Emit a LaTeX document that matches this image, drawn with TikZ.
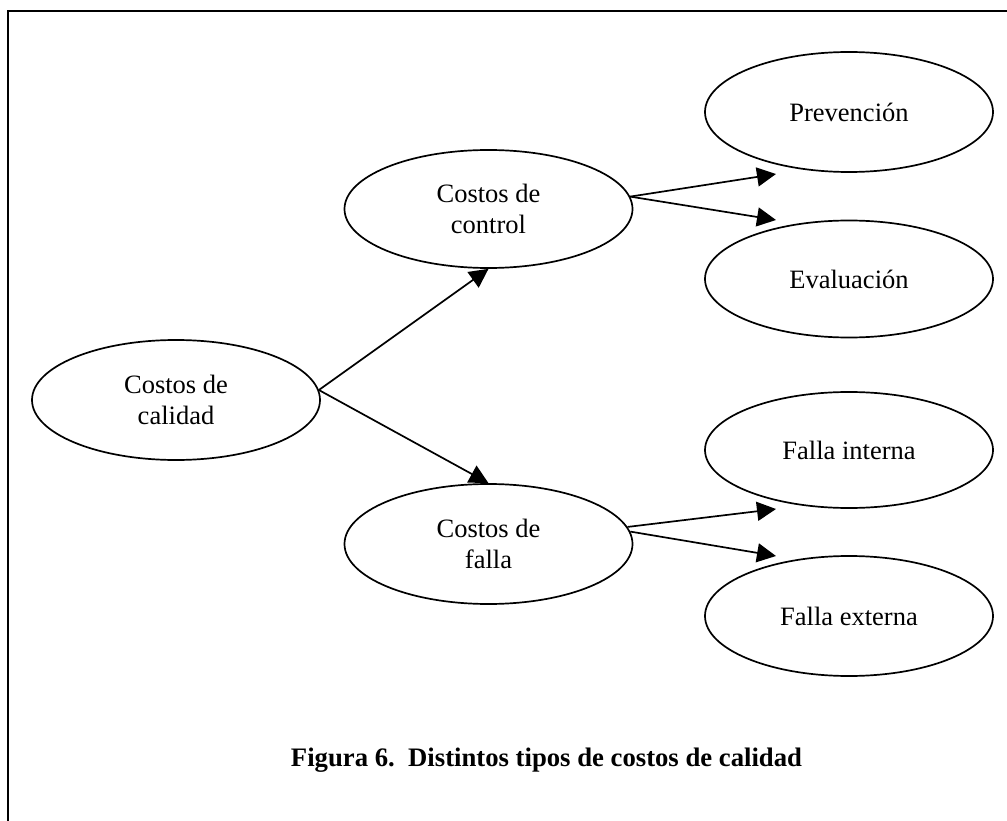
\documentclass[tikz,border=0pt]{standalone}
\usepackage{fontspec}
\setmainfont{Liberation Serif}
\usetikzlibrary{shapes.geometric,arrows.meta}
\begin{document}
\begin{tikzpicture}[x=1pt,y=-1pt,
  oval/.style={draw,ellipse,line width=1.7pt,inner sep=0pt,minimum width=288pt,minimum height=120pt,align=center,font=\fontsize{26.5}{31}\selectfont,fill=white},
  conn/.style={line width=1.7pt,-{Triangle[length=19pt,width=19pt]}},
  framel/.style={line width=1.8pt},
  caption/.style={font=\bfseries\fontsize{26.7}{31}\selectfont,anchor=base,inner sep=0pt}]
\clip (0,0) rectangle (1007,821);
\useasboundingbox (0,0) rectangle (1007,821);
\fill[white] (0,0) rectangle (1007,821);
\draw[framel] (8,830) -- (8,11) -- (1015,11);

\node[oval] (cal) at (176,400) {Costos de\\calidad};
\node[oval,minimum height=118pt] (ctrl) at (488.5,209) {Costos de\\control};
\node[oval] (fal) at (488.5,544) {Costos de\\falla};
\node[oval] (prev) at (849,112) {Prevención};
\node[oval,minimum height=117pt] (eval) at (849,279) {Evaluación};
\node[oval,minimum height=116pt] (fint) at (849,450) {Falla interna};
\node[oval] (fext) at (849,616) {Falla externa};

\coordinate (tp) at (776,174);
\coordinate (te) at (776,220);
\coordinate (tfi) at (776,509);
\coordinate (tfe) at (776,556);

\draw[conn] (cal.4) -- (ctrl.south);
\draw[conn] (cal.4) -- (fal.north);
\draw[conn] (ctrl.5) -- (tp);
\draw[conn] (ctrl.5) -- (te);
\draw[conn] (fal.7) -- (tfi);
\draw[conn] (fal.5) -- (tfe);

\node[caption] (cap) at (546.5,766) {Figura 6.\ \ Distintos tipos de costos de calidad};
\end{tikzpicture}
\end{document}
